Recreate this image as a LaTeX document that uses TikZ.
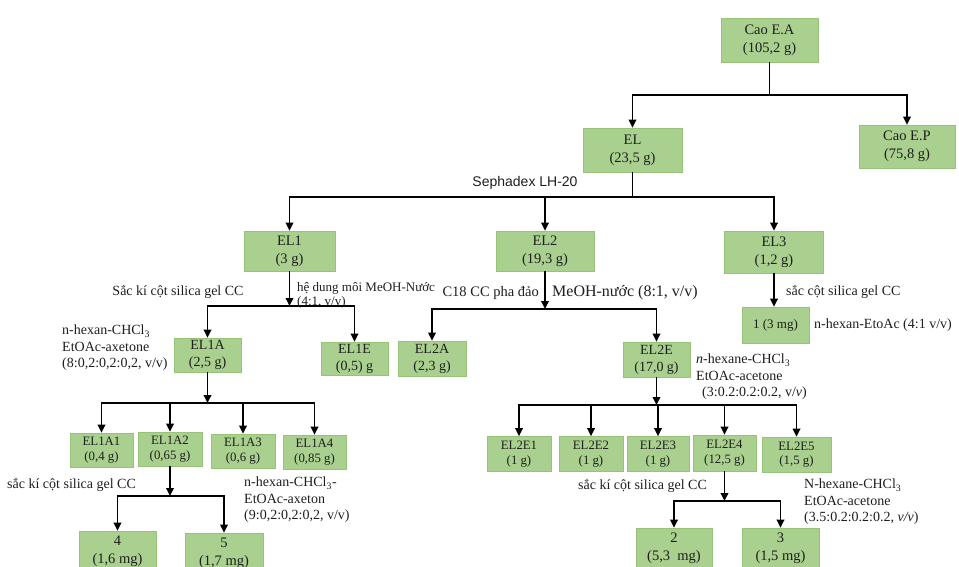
\documentclass[tikz,border=0pt]{standalone}
\usepackage{fontspec}
\setmainfont{Liberation Serif}
\newfontfamily\arialf{Liberation Sans}
\usetikzlibrary{arrows.meta}
\definecolor{boxfill}{RGB}{169,208,142}
\definecolor{boxline}{RGB}{150,195,120}
\definecolor{ink}{RGB}{30,30,30}
\begin{document}
\begin{tikzpicture}[x=1pt,y=-1pt,
  box/.style={fill=boxfill, draw=boxline, line width=0.6pt, align=center, inner sep=0pt, text=ink},
  bigtxt/.style={font=\fontsize{14.5}{18}\selectfont},
  midtxt/.style={font=\fontsize{14}{17}\selectfont},
  smalltxt/.style={font=\fontsize{12.8}{14.5}\selectfont},
  lbl/.style={text=ink, inner sep=0pt, align=left, font=\fontsize{14}{16.5}\selectfont},
  ln/.style={line width=1.8pt, draw=black},
  arr/.style={ln, -{Triangle[length=8pt,width=7.5pt]}},
]
\useasboundingbox (0,0) rectangle (959,566);
\clip (0,0) rectangle (959,566);

% boxes
\node[box,bigtxt,minimum width=97pt,minimum height=44pt] (caoEA) at (769.5,40) {Cao E.A\\(105,2 g)};
\node[box,bigtxt,minimum width=99pt,minimum height=44pt] (EL) at (632.5,150) {EL\\(23,5 g)};
\node[box,bigtxt,minimum width=96pt,minimum height=43pt] (caoEP) at (907,146.5) {Cao E.P\\(75,8 g)};
\node[box,bigtxt,minimum width=91pt,minimum height=40pt] (EL1) at (289.5,251) {EL1\\(3 g)};
\node[box,bigtxt,minimum width=98pt,minimum height=40pt] (EL2) at (545,251) {EL2\\(19,3 g)};
\node[box,bigtxt,minimum width=99pt,minimum height=42pt] (EL3) at (774,252) {EL3\\(1,2 g)};
\node[box,font=\fontsize{13}{15}\selectfont,minimum width=67pt,minimum height=36pt] (c1) at (775.5,325) {1 (3 mg)};
\node[box,midtxt,minimum width=67pt,minimum height=34pt] (EL1A) at (207.5,355) {EL1A\\(2,5 g)};
\node[box,midtxt,minimum width=67pt,minimum height=33pt] (EL1E) at (354.5,358.5) {EL1E\\(0,5) g};
\node[box,midtxt,minimum width=68pt,minimum height=35pt] (EL2A) at (432,358.5) {EL2A\\(2,3 g)};
\node[box,midtxt,minimum width=67pt,minimum height=35pt] (EL2E) at (656.5,359.5) {EL2E\\(17,0 g)};

\node[box,smalltxt,minimum width=63pt,minimum height=34pt] (EL1A1) at (101.5,450) {EL1A1\\(0,4 g)};
\node[box,smalltxt,minimum width=64pt,minimum height=34pt] (EL1A2) at (170,449) {EL1A2\\(0,65 g)};
\node[box,smalltxt,minimum width=64pt,minimum height=34pt] (EL1A3) at (243,451) {EL1A3\\(0,6 g)};
\node[box,smalltxt,minimum width=63pt,minimum height=34pt] (EL1A4) at (314.5,452) {EL1A4\\(0,85 g)};

\node[box,smalltxt,minimum width=64pt,minimum height=35pt] (EL2E1) at (519,454) {EL2E1\\(1 g)};
\node[box,smalltxt,minimum width=64pt,minimum height=35pt] (EL2E2) at (591,454) {EL2E2\\(1 g)};
\node[box,smalltxt,minimum width=62pt,minimum height=35pt] (EL2E3) at (658,454) {EL2E3\\(1 g)};
\node[box,smalltxt,minimum width=63pt,minimum height=36pt] (EL2E4) at (724.5,453) {EL2E4\\(12,5 g)};
\node[box,smalltxt,minimum width=69pt,minimum height=35pt] (EL2E5) at (796.5,454.5) {EL2E5\\(1,5 g)};

\node[box,bigtxt,minimum width=77pt,minimum height=40pt] (c4) at (117.5,551) {4\\(1,6 mg)};
\node[box,bigtxt,minimum width=78pt,minimum height=40pt] (c5) at (224,553) {5\\(1,7 mg)};
\node[box,bigtxt,minimum width=76pt,minimum height=40pt] (c2) at (674,548) {2\\(5,3\ \ mg)};
\node[box,bigtxt,minimum width=77pt,minimum height=40pt] (c3) at (780.5,548) {3\\(1,5 mg)};

% labels
\node[text=ink, inner sep=0pt, font=\arialf\fontsize{14}{16}\selectfont] (lSeph) at (525,183) {Sephadex LH-20};
\node[lbl] (l1) at (178,292) {Sắc kí cột silica gel CC};
\node[lbl, anchor=west, font=\fontsize{13}{14}\selectfont] (l2) at (297,295) {hệ dung môi MeOH-Nước\\(4:1, v/v)};
\node[lbl, anchor=west] (l3) at (62,348) {n-hexan-CHCl\textsubscript{3}\\EtOAc-axetone\\(8:0,2:0,2:0,2, v/v)};
\node[lbl, anchor=east, font=\fontsize{14.5}{16.5}\selectfont] (l4) at (539,293) {C18 CC pha đảo};
\node[lbl, anchor=west, font=\fontsize{16}{18}\selectfont] (l5) at (552,293) {MeOH-nước (8:1, v/v)};
\node[lbl, anchor=west] (l6) at (786,292) {sắc cột silica gel CC};
\node[lbl, anchor=west] (l7) at (814,325) {n-hexan-EtoAc (4:1 v/v)};
\node[lbl, anchor=west] (l8) at (696,377) {\textit{n}-hexane-CHCl\textsubscript{3}\\EtOAc-acetone\\\hspace{6pt}(3:0.2:0.2:0.2, v/\textit{v})};
\node[lbl, anchor=west] (l9) at (7,485) {sắc kí cột silica gel CC};
\node[lbl, anchor=west] (l10) at (244,500) {n-hexan-CHCl\textsubscript{3}-\\EtOAc-axeton\\(9:0,2:0,2:0,2, v/v)};
\node[lbl] (l11) at (642.5,486) {sắc kí cột silica gel CC};
\node[lbl, anchor=west] (l12) at (804,502) {N-hexane-CHCl\textsubscript{3}\\EtOAc-acetone\\(3.5:0.2:0.2:0.2, \textit{v/v})};

% bus coordinates
\coordinate (b0) at (769.5,95);
\coordinate (bEL) at (632.5,197);
\coordinate (bEL1) at (289.5,306);
\coordinate (bEL2) at (545,309);
\coordinate (bEL1A) at (207.5,403);
\coordinate (bEL2E) at (656.5,405);
\coordinate (bEL1A2) at (170,496);
\coordinate (bEL2E4) at (724.5,501);

% connectors
\draw[ln] (caoEA.south) -- (b0);
\draw[arr] (b0) -| (EL.north);
\draw[arr] (b0) -| (caoEP.north);

\draw[ln] (EL.south) -- (bEL);
\draw[arr] (bEL) -| (EL1.north);
\draw[arr] (bEL) -| (EL2.north);
\draw[arr] (bEL) -| (EL3.north);

\draw[arr] (EL1.south) -- (bEL1);
\draw[arr] (bEL1) -| (EL1A.north);
\draw[arr] (bEL1) -| (EL1E.north);

\draw[arr] (EL2.south) -- (bEL2);
\draw[arr] (bEL2) -| (EL2A.north);
\draw[arr] (bEL2) -| (EL2E.north);

\draw[arr] (EL3.south) -- (EL3.south |- c1.north);

\draw[arr] (EL1A.south) -- (bEL1A);
\draw[arr] (bEL1A) -| (EL1A1.north);
\draw[arr] (bEL1A) -| (EL1A2.north);
\draw[arr] (bEL1A) -| (EL1A3.north);
\draw[arr] (bEL1A) -| (EL1A4.north);

\draw[arr] (EL2E.south) -- (bEL2E);
\draw[arr] (bEL2E) -| (EL2E1.north);
\draw[arr] (bEL2E) -| (EL2E2.north);
\draw[arr] (bEL2E) -| (EL2E3.north);
\draw[arr] (bEL2E) -| (EL2E4.north);
\draw[arr] (bEL2E) -| (EL2E5.north);

\draw[arr] (EL1A2.south) -- (bEL1A2);
\draw[arr] (bEL1A2) -| (c4.north);
\draw[arr] (bEL1A2) -| (c5.north);

\draw[arr] (EL2E4.south) -- (bEL2E4);
\draw[arr] (bEL2E4) -| (c2.north);
\draw[arr] (bEL2E4) -| (c3.north);
\end{tikzpicture}
\end{document}
